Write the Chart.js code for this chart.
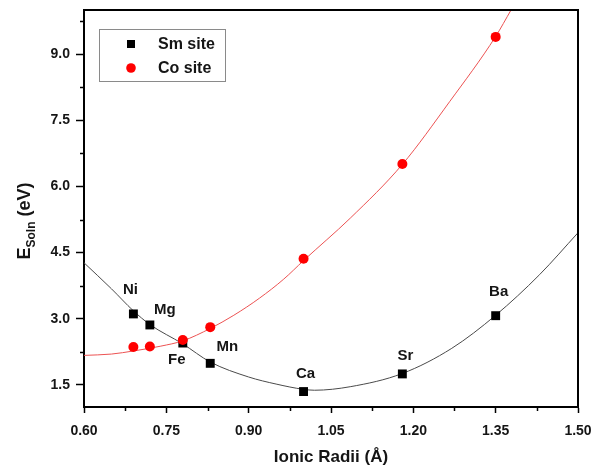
<!DOCTYPE html>
<html>
<head>
<meta charset="utf-8">
<script src="https://cdn.jsdelivr.net/npm/chart.js@4.4.1/dist/chart.umd.min.js"></script>
<style>
  html, body { margin: 0; padding: 0; background: #fff; }
</style>
</head>
<body>
<canvas id="chart" width="602" height="470"></canvas>
<script>
const dopants = ["Ni", "Mg", "Fe", "Mn", "Ca", "Sr", "Ba"];
const ionicRadii = [0.69, 0.72, 0.78, 0.83, 1.00, 1.18, 1.35];
const smSiteEnergy = [3.11, 2.86, 2.45, 1.99, 1.35, 1.75, 3.07];
const coSiteEnergy = [2.36, 2.37, 2.52, 2.81, 4.36, 6.51, 9.39];

// fitted curves, sampled from the figure
const smFitX = [0.60, 0.65, 0.69, 0.72, 0.78, 0.83, 0.90, 0.95, 1.00, 1.02, 1.085, 1.18, 1.27, 1.35, 1.43, 1.50];
const smFitY = [4.27, 3.68, 3.18, 2.87, 2.43, 2.02, 1.68, 1.52, 1.40, 1.38, 1.46, 1.76, 2.33, 3.08, 4.00, 4.95];
const coFitX = [0.60, 0.65, 0.69, 0.74, 0.78, 0.83, 0.873, 0.92, 0.964, 1.00, 1.085, 1.18, 1.266, 1.35, 1.378];
const coFitY = [2.17, 2.20, 2.27, 2.38, 2.50, 2.78, 3.08, 3.47, 3.90, 4.32, 5.28, 6.50, 7.92, 9.40, 10.0];

const xTicks = [0.60, 0.75, 0.90, 1.05, 1.20, 1.35, 1.50];
const yTicks = [1.5, 3.0, 4.5, 6.0, 7.5, 9.0];

const FONT = "'Liberation Sans', Arial, sans-serif";
const INK = "#151515";

function pts(xs, ys) {
  return xs.map((x, i) => ({ x: x, y: ys[i] }));
}

// label offsets (px) from each Sm site marker
const labelOffsets = [[-3, -24], [15, -15], [-6, 17], [17, -16], [2, -18], [3, -18], [3, -24]];

function minorValues(major, min, max) {
  const step = major[1] - major[0];
  const out = [];
  for (let v = major[0] - step / 2; v <= max + 1e-9; v += step) {
    if (v >= min - 1e-9) out.push(v);
  }
  return out;
}

const decor = {
  id: "decor",
  afterDraw(chart) {
    const ctx = chart.ctx;
    const a = chart.chartArea;
    const xs = chart.scales.x;
    const ys = chart.scales.y;

    ctx.save();
    // top + right frame
    ctx.strokeStyle = "#000";
    ctx.lineWidth = 2;
    ctx.beginPath();
    ctx.moveTo(a.left, a.top);
    ctx.lineTo(a.right, a.top);
    ctx.lineTo(a.right, a.bottom);
    ctx.stroke();

    // minor ticks
    ctx.lineWidth = 1.5;
    ctx.beginPath();
    minorValues(xTicks, xs.min, xs.max).forEach(v => {
      const px = Math.round(xs.getPixelForValue(v)) + 0.5;
      ctx.moveTo(px, a.bottom);
      ctx.lineTo(px, a.bottom + 4);
    });
    minorValues(yTicks, ys.min, ys.max).forEach(v => {
      const py = Math.round(ys.getPixelForValue(v)) + 0.5;
      ctx.moveTo(a.left, py);
      ctx.lineTo(a.left - 4, py);
    });
    ctx.stroke();

    // y title with subscript
    ctx.translate(25, 221);
    ctx.rotate(-Math.PI / 2);
    ctx.fillStyle = INK;
    ctx.textBaseline = "middle";
    const big = "bold 18px " + FONT;
    const small = "bold 12px " + FONT;
    ctx.font = big;
    const wE = ctx.measureText("E").width;
    const wRest = ctx.measureText(" (eV)").width;
    ctx.font = small;
    const wSub = ctx.measureText("Soln").width;
    let x0 = -(wE + wSub + wRest) / 2;
    ctx.font = big;
    ctx.textAlign = "left";
    ctx.fillText("E", x0, 0);
    ctx.font = small;
    ctx.fillText("Soln", x0 + wE, 7);
    ctx.font = big;
    ctx.fillText(" (eV)", x0 + wE + wSub, 0);
    ctx.restore();

    // dopant labels
    ctx.save();
    ctx.font = "bold 15px " + FONT;
    ctx.fillStyle = INK;
    ctx.textAlign = "center";
    ctx.textBaseline = "middle";
    const meta = chart.getDatasetMeta(2);
    meta.data.forEach((p, i) => {
      const off = labelOffsets[i];
      ctx.fillText(dopants[i], p.x + off[0], p.y + off[1]);
    });
    ctx.restore();

    // legend box
    ctx.save();
    const bx = a.left + 15, by = a.top + 19;
    ctx.strokeStyle = "#8a8a8a";
    ctx.lineWidth = 1;
    ctx.strokeRect(bx + 0.5, by + 0.5, 126, 52);
    ctx.font = "bold 16px " + FONT;
    ctx.textBaseline = "middle";
    ctx.textAlign = "left";
    [2, 3].forEach((di, row) => {
      const ds = chart.data.datasets[di];
      const cy = by + 15 + row * 24;
      const cx = bx + 32;
      ctx.fillStyle = ds.backgroundColor;
      if (ds.pointStyle === "rect") {
        ctx.fillRect(cx - 4, cy - 4, 8, 8);
      } else {
        ctx.beginPath();
        ctx.arc(cx, cy, 4.8, 0, Math.PI * 2);
        ctx.fill();
      }
      ctx.fillStyle = INK;
      ctx.fillText(ds.label, bx + 59, cy + 1);
    });
    ctx.restore();
  }
};

new Chart(document.getElementById("chart"), {
  type: "scatter",
  data: {
    datasets: [
      {
        label: "Sm fit",
        data: pts(smFitX, smFitY),
        showLine: true,
        borderColor: "#4a4a4a",
        borderWidth: 1,
        pointRadius: 0,
        cubicInterpolationMode: "monotone",
        order: 4
      },
      {
        label: "Co fit",
        data: pts(coFitX, coFitY),
        showLine: true,
        borderColor: "#ec5252",
        borderWidth: 1,
        pointRadius: 0,
        cubicInterpolationMode: "monotone",
        order: 3
      },
      {
        label: "Sm site",
        data: pts(ionicRadii, smSiteEnergy),
        pointStyle: "rect",
        pointRadius: 6.3,
        backgroundColor: "#000",
        borderColor: "#000",
        borderWidth: 0,
        order: 2
      },
      {
        label: "Co site",
        data: pts(ionicRadii, coSiteEnergy),
        pointStyle: "circle",
        pointRadius: 5,
        backgroundColor: "#ff0000",
        borderColor: "#ff0000",
        borderWidth: 0,
        order: 1
      }
    ]
  },
  options: {
    responsive: false,
    animation: false,
    layout: { padding: { top: 10, right: 24, left: 0, bottom: 0 } },
    plugins: {
      legend: { display: false },
      tooltip: { enabled: false }
    },
    scales: {
      x: {
        type: "linear",
        min: 0.6,
        max: 1.5,
        afterBuildTicks: s => { s.ticks = xTicks.map(v => ({ value: v })); },
        afterFit: s => { s.height = 63; s.paddingLeft = 0; s.paddingRight = 0; },
        grid: { drawOnChartArea: false, tickLength: 6, tickColor: "#000", tickWidth: 1.5 },
        border: { color: "#000", width: 2 },
        ticks: {
          autoSkip: false,
          maxRotation: 0,
          padding: 10,
          color: INK,
          font: { family: FONT, size: 14, weight: "bold" },
          callback: v => v.toFixed(2)
        },
        title: {
          display: true,
          text: "Ionic Radii (Å)",
          color: INK,
          font: { family: FONT, size: 17, weight: "bold" },
          padding: { top: 0, bottom: 2 }
        }
      },
      y: {
        type: "linear",
        min: 1,
        max: 10,
        afterBuildTicks: s => { s.ticks = yTicks.map(v => ({ value: v })); },
        afterFit: s => { s.width = 84; s.paddingTop = 0; s.paddingBottom = 0; },
        grid: { drawOnChartArea: false, tickLength: 8, tickColor: "#000", tickWidth: 1.5 },
        border: { color: "#000", width: 2 },
        ticks: {
          autoSkip: false,
          padding: 6,
          color: INK,
          font: { family: FONT, size: 14, weight: "bold" },
          callback: v => v.toFixed(1)
        }
      }
    }
  },
  plugins: [decor]
});
</script>
</body>
</html>
